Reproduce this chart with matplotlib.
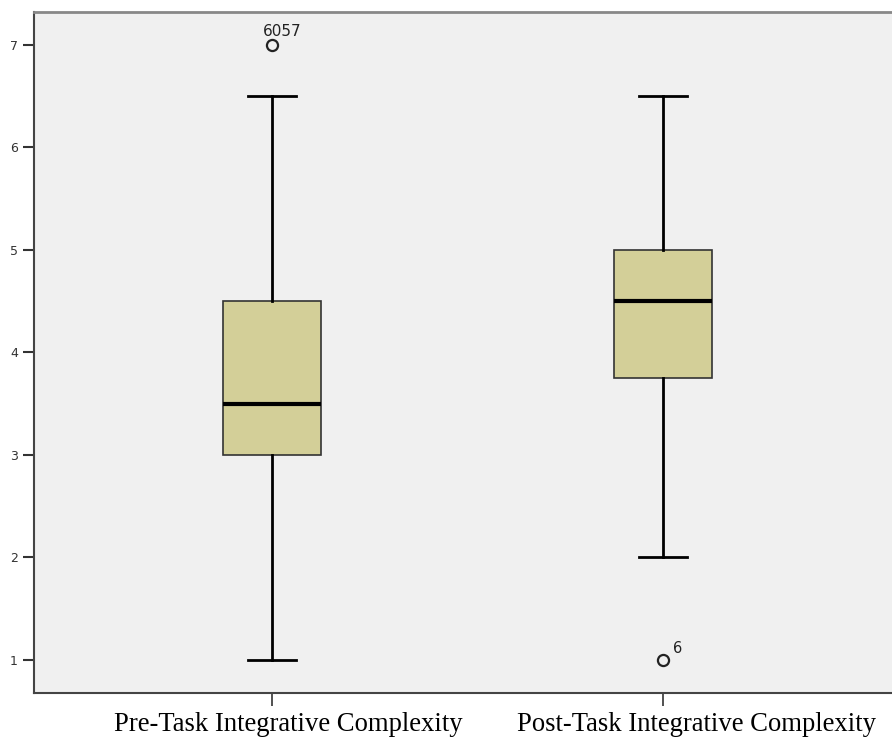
import matplotlib.pyplot as plt

# Box statistics
labels = ["Pre-Task Integrative Complexity", "Post-Task Integrative Complexity"]
whislo = [1.0, 2.0]
q1 = [3.0, 3.75]
med = [3.5, 4.5]
q3 = [4.5, 5.0]
whishi = [6.5, 6.5]
outliers = [[7.0], [1.0]]
outlier_ids = [["6057"], ["6"]]

stats = []
for i in range(len(labels)):
    stats.append(dict(whislo=whislo[i], q1=q1[i], med=med[i], q3=q3[i],
                      whishi=whishi[i], fliers=outliers[i], label=labels[i]))

fig = plt.figure(figsize=(8.92, 7.4), dpi=100)
ax = fig.add_axes([34 / 892, 1 - 693 / 740, (892 - 34) / 892, (693 - 12) / 740])
ax.set_facecolor("#f0f0f0")

ax.bxp(stats, positions=[1, 2], widths=0.25, patch_artist=True,
       boxprops=dict(facecolor="#d3cf98", edgecolor="#333333", linewidth=1.2),
       medianprops=dict(color="black", linewidth=3),
       whiskerprops=dict(color="black", linewidth=2),
       capprops=dict(color="black", linewidth=2),
       capwidths=0.125,
       flierprops=dict(marker="o", markerfacecolor="none", markeredgecolor="#222222",
                       markersize=8, markeredgewidth=1.6))

# outlier case labels
for i in range(len(labels)):
    for v, name in zip(outliers[i], outlier_ids[i]):
        if v > med[i]:
            ax.text(i + 1.025, v + 0.06, name, fontsize=11, color="#222222",
                    ha="center", va="bottom", family="DejaVu Sans")
        else:
            ax.text(i + 1.025, v + 0.04, name, fontsize=10.5, color="#222222",
                    ha="left", va="bottom", family="DejaVu Sans")

ax.set_xlim(0.391, 2.586)
ax.set_ylim(0.678, 7.32)
ax.set_yticks([1, 2, 3, 4, 5, 6, 7])
ax.tick_params(axis="y", direction="out", length=8, width=1.5, color="#333333",
               labelsize=9, labelcolor="#333333")
ax.tick_params(axis="x", direction="out", length=9, width=1.2, color="#333333")
ax.set_xticks([1, 2])
ax.set_xticklabels(["", ""])

# category labels sit a little right of their ticks in the original
shifts = [16, 34]
for i, lab in enumerate(labels):
    ax.annotate(lab, xy=(i + 1, 0), xycoords=("data", "axes fraction"),
                xytext=(shifts[i], -38), textcoords="offset pixels",
                ha="center", va="baseline", fontsize=19.2, family="Liberation Serif",
                annotation_clip=False)

ax.spines["right"].set_visible(False)
ax.spines["top"].set_color("#888888")
ax.spines["top"].set_linewidth(2)
ax.spines["left"].set_color("#444444")
ax.spines["left"].set_linewidth(1.5)
ax.spines["bottom"].set_color("#444444")
ax.spines["bottom"].set_linewidth(1.5)

fig.savefig("out.png", dpi=100)
